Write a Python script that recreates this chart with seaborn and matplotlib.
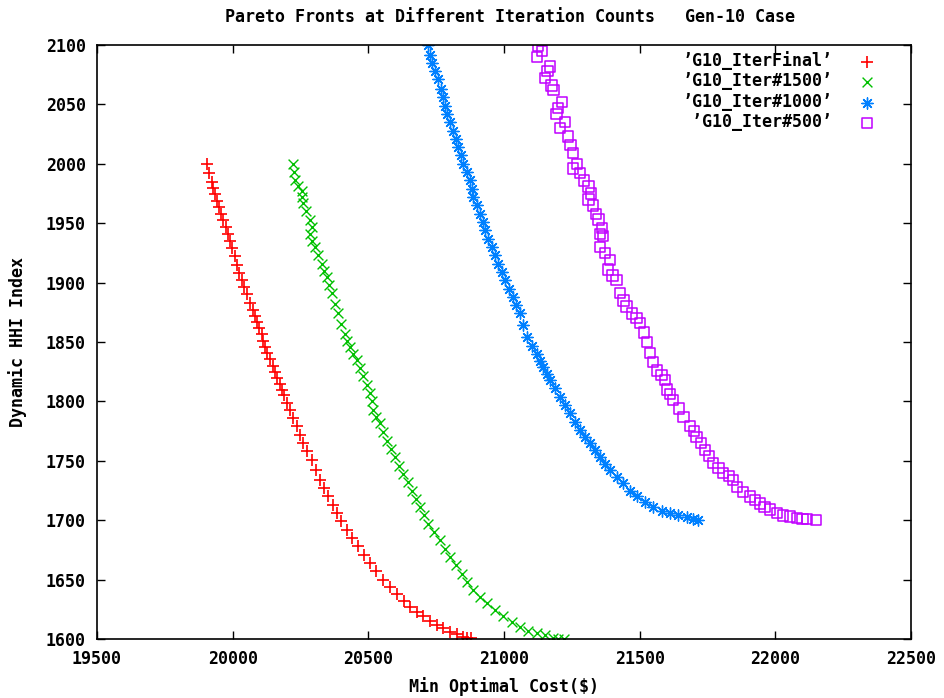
import matplotlib
matplotlib.use('Agg')
import matplotlib.pyplot as plt
import pandas as pd
import seaborn as sns
import numpy as np

# values
iterFinal_cost = [19905, 19914, 19923, 19929, 19935, 19943, 19950, 19958, 19965, 19975, 19984, 19992,
                  19999, 20007, 20015, 20024, 20033, 20043, 20052, 20064, 20076, 20083, 20089, 20098,
                  20107, 20113, 20119, 20128, 20138, 20147, 20156, 20165, 20174, 20182, 20190, 20200,
                  20211, 20224, 20236, 20248, 20260, 20275, 20291, 20306, 20322, 20337, 20352, 20368,
                  20383, 20401, 20420, 20441, 20463, 20484, 20506, 20530, 20555, 20580, 20605, 20630,
                  20654, 20678, 20703, 20727, 20752, 20776, 20801, 20825, 20850, 20865, 20880]
iterFinal_hhi = [2000, 1992, 1985, 1980, 1975, 1969, 1964, 1958, 1953, 1947, 1941, 1935,
                 1929, 1922, 1915, 1908, 1902, 1896, 1890, 1883, 1877, 1872, 1867, 1862,
                 1857, 1851, 1846, 1841, 1836, 1830, 1825, 1820, 1815, 1810, 1805, 1799,
                 1793, 1786, 1779, 1772, 1765, 1758, 1751, 1742, 1734, 1727, 1720, 1713,
                 1706, 1699, 1692, 1685, 1678, 1671, 1664, 1657, 1650, 1644, 1638, 1632,
                 1627, 1623, 1619, 1615, 1612, 1609, 1606, 1604, 1602, 1601, 1601]

iter1500_cost = [20223, 20226, 20230, 20242, 20254, 20257, 20260, 20272, 20285, 20292, 20285, 20294,
                 20303, 20316, 20328, 20338, 20347, 20356, 20365, 20377, 20389, 20401, 20414, 20423,
                 20432, 20445, 20457, 20469, 20481, 20494, 20506, 20512, 20518, 20530, 20543, 20555,
                 20568, 20583, 20598, 20613, 20629, 20645, 20660, 20675, 20690, 20705, 20721, 20742,
                 20764, 20782, 20801, 20822, 20844, 20865, 20887, 20911, 20936, 20966, 20997, 21028,
                 21059, 21090, 21121, 21151, 21182, 21200, 21220]
iter1500_hhi = [2000, 1993, 1986, 1981, 1977, 1972, 1967, 1960, 1953, 1947, 1941, 1935,
                1930, 1923, 1916, 1910, 1905, 1898, 1891, 1882, 1874, 1865, 1857, 1851,
                1846, 1840, 1835, 1828, 1821, 1814, 1807, 1800, 1793, 1787, 1782, 1774,
                1767, 1760, 1753, 1746, 1739, 1732, 1725, 1718, 1711, 1704, 1697, 1690,
                1683, 1676, 1669, 1662, 1655, 1648, 1641, 1635, 1630, 1624, 1619, 1614,
                1610, 1607, 1605, 1603, 1601, 1600, 1600]

iter1000_cost = [20721, 20727, 20734, 20746, 20758, 20767, 20776, 20783, 20789, 20801, 20813, 20822,
                 20832, 20841, 20850, 20862, 20875, 20881, 20887, 20900, 20912, 20921, 20930, 20942,
                 20955, 20967, 20979, 20991, 21004, 21019, 21034, 21046, 21059, 21071, 21084, 21102,
                 21121, 21133, 21145, 21157, 21170, 21188, 21206, 21224, 21243, 21261, 21280, 21298,
                 21317, 21335, 21354, 21372, 21391, 21415, 21440, 21464, 21489, 21519, 21550, 21581,
                 21612, 21642, 21673, 21695, 21715]
iter1000_hhi = [2100, 2092, 2085, 2078, 2071, 2063, 2056, 2049, 2042, 2035, 2028, 2021,
                2014, 2007, 2000, 1993, 1986, 1979, 1972, 1965, 1958, 1951, 1944, 1937,
                1930, 1923, 1916, 1909, 1902, 1895, 1888, 1881, 1874, 1864, 1854, 1847,
                1840, 1834, 1829, 1823, 1818, 1811, 1804, 1797, 1790, 1783, 1776, 1770,
                1765, 1759, 1753, 1747, 1742, 1736, 1731, 1725, 1720, 1715, 1711, 1708,
                1706, 1704, 1703, 1701, 1700]

iter500_cost = [21126, 21121, 21170, 21151, 21182, 21213, 21194, 21206, 21237, 21255, 21255, 21280,
                21311, 21311, 21329, 21348, 21354, 21366, 21354, 21391, 21384, 21415, 21428, 21452,
                21471, 21501, 21526, 21538, 21563, 21593, 21600, 21624, 21661, 21685, 21710, 21741,
                21771, 21808, 21845, 21858, 21907, 21943, 21980, 22029, 22079, 22116, 22150,
                21140, 21160, 21175, 21200, 21225, 21245, 21270, 21295, 21320, 21340, 21362, 21372,
                21400, 21440, 21488, 21515, 21550, 21580, 21612, 21645, 21700, 21725, 21756, 21790,
                21830, 21880, 21925, 21960, 22005, 22055, 22100]
iter500_hhi = [2099, 2090, 2082, 2072, 2062, 2052, 2042, 2030, 2023, 2009, 1996, 1992,
               1981, 1970, 1965, 1953, 1941, 1939, 1930, 1919, 1911, 1902, 1891, 1880,
               1874, 1866, 1850, 1841, 1826, 1818, 1810, 1801, 1787, 1779, 1770, 1759,
               1748, 1740, 1734, 1728, 1720, 1714, 1709, 1704, 1702, 1701, 1700,
               2095, 2078, 2066, 2047, 2035, 2016, 2000, 1986, 1975, 1958, 1946, 1925,
               1906, 1885, 1870, 1858, 1833, 1822, 1806, 1794, 1775, 1765, 1754, 1744,
               1737, 1724, 1717, 1711, 1706, 1703, 1701]

labels = ["\u2019G10_IterFinal\u2019", "\u2019G10_Iter#1500\u2019", "\u2019G10_Iter#1000\u2019", " \u2019G10_Iter#500\u2019"]


def paretoPlot():
    sns.set_style('ticks')
    plt.rcParams['font.family'] = ['DejaVu Sans Mono']
    plt.rcParams['font.weight'] = 'bold'
    plt.rcParams['font.size'] = 12
    plt.rcParams['text.color'] = 'black'

    frames = []
    for lab, xs, ys in [(labels[0], iterFinal_cost, iterFinal_hhi),
                        (labels[1], iter1500_cost, iter1500_hhi),
                        (labels[2], iter1000_cost, iter1000_hhi),
                        (labels[3], iter500_cost, iter500_hhi)]:
        frames.append(pd.DataFrame({'cost': xs, 'hhi': ys, 'run': lab}))
    data = pd.concat(frames, ignore_index=True)

    f = plt.figure(figsize=(9.45, 6.98), dpi=100)
    ax = f.add_axes([97 / 945, 59 / 698, 814 / 945, 594 / 698])

    styles = [('#ff0000', '+', 75, 1.2),
              ('#00c000', 'x', 50, 1.0),
              ('#0080ff', (8, 2, 0), 65, 1.0),
              ('#c000ff', 's', 55, 1.1)]

    for lab, (col, mk, sz, lw) in zip(labels, styles):
        sub = data[data['run'] == lab]
        sns.scatterplot(x='cost', y='hhi', data=sub, marker=mk, color=col, s=sz,
                        linewidth=lw, label=lab, ax=ax, legend=False)
        coll = ax.collections[-1]
        if mk == 's':
            coll.set_facecolor('none')
        coll.set_edgecolor(col)
        coll.set_linewidth(lw)

    ax.set(xlim=(19500, 22500), ylim=(1600, 2100))
    ax.set_xticks(np.arange(19500, 22501, 500))
    ax.set_yticks(np.arange(1600, 2101, 50))
    ax.tick_params(direction='in', top=True, right=True, length=6, width=1,
                   labelsize=12, pad=8, colors='black')
    for sp in ax.spines.values():
        sp.set_linewidth(1.2)
        sp.set_color('black')

    ax.set_xlabel('')
    ax.set_ylabel('')
    f.text(504 / 945, 1 - 687 / 698, 'Min Optimal Cost($)', ha='center', va='center', fontsize=12)
    f.text(18 / 945, 1 - 342 / 698, 'Dynamic HHI Index', ha='center', va='center',
           rotation=90, fontsize=12)
    f.text(510 / 945, 1 - 17 / 698, 'Pareto Fronts at Different Iteration Counts   Gen-10 Case',
           ha='center', va='center', fontsize=12)

    handles = ax.collections[:4]
    ax.legend(handles, labels, loc='upper right', bbox_to_anchor=(0.9665, 0.99),
              markerfirst=False, frameon=False, fontsize=12, borderpad=0,
              borderaxespad=0, handlelength=2, handletextpad=1.1, labelspacing=0.15)

    f.savefig('out.png', dpi=100)


if __name__ == '__main__':
    paretoPlot()
